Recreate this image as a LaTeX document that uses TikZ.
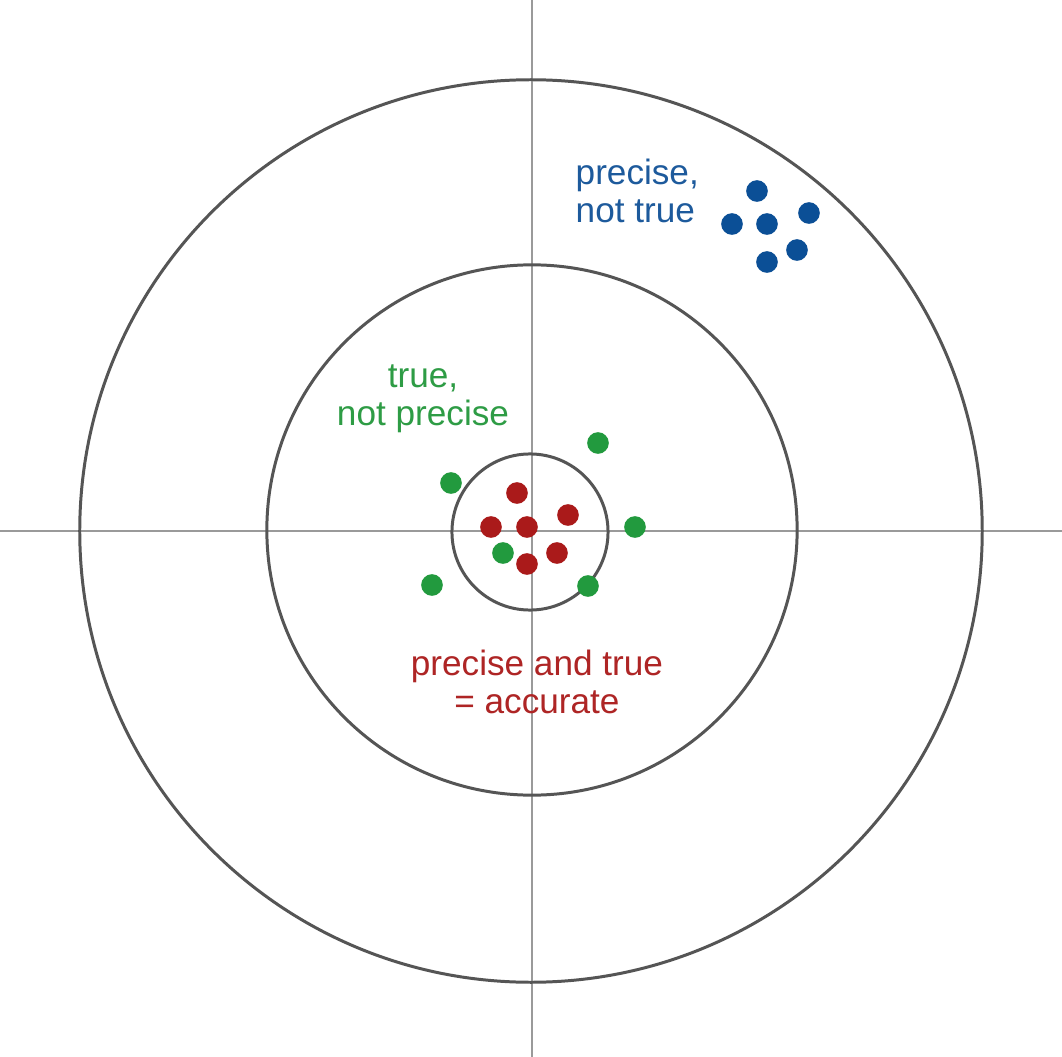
\documentclass[tikz,border=0pt]{standalone}
\usepackage{fontspec}
\setmainfont{Liberation Sans}
\definecolor{ringgray}{HTML}{555555}
\definecolor{axisgray}{HTML}{9A9A9A}
\definecolor{shotblue}{HTML}{0B4F96}
\definecolor{shotgreen}{HTML}{229A3E}
\definecolor{shotred}{HTML}{AA1A1A}
\definecolor{textblue}{HTML}{1D5A9C}
\definecolor{textgreen}{HTML}{2E9C45}
\definecolor{textred}{HTML}{AE2525}
\begin{document}
\begin{tikzpicture}[x=0.01cm,y=-0.01cm,
    ring/.style={draw=ringgray,line width=0.85pt},
    axis/.style={draw=axisgray,line width=0.55pt},
    verdict/.style={font=\fontsize{10}{10.8}\selectfont,inner sep=0pt}]
	\useasboundingbox (0,0) rectangle (1062,1057);
	\fill[white] (0,0) rectangle (1062,1057);

	% crosshair
	\draw[axis] (0,531) -- (1062,531);
	\draw[axis] (532,0) -- (532,1057);

	% target rings
	\draw[ring] (531,531) circle[radius=4.51cm];
	\draw[ring] (532,530) circle[radius=2.65cm];
	\draw[ring] (530,532) circle[radius=0.78cm];

	% shots
	\foreach \x/\y in {757/191, 809/213, 732/224, 767/224, 797/250, 767/262}
		\fill[shotblue] (\x,\y) circle[radius=0.108cm];
	\foreach \x/\y in {598/443, 451/483, 635/527, 503/553, 432/585, 588/586}
		\fill[shotgreen] (\x,\y) circle[radius=0.108cm];
	\foreach \x/\y in {517/493, 568/515, 491/527, 527/527, 557/553, 527/564}
		\fill[shotred] (\x,\y) circle[radius=0.108cm];

	% labels
	\node[verdict,textblue,align=left,anchor=base west] (pnt) at (575,222) {precise,\\not true};
	\node[verdict,textgreen,align=center,anchor=base] (tnp) at (423,425) {true,\\not precise};
	\node[verdict,textred,align=center,anchor=base] (acc) at (537,713) {precise and true\\= accurate};
\end{tikzpicture}
\end{document}
